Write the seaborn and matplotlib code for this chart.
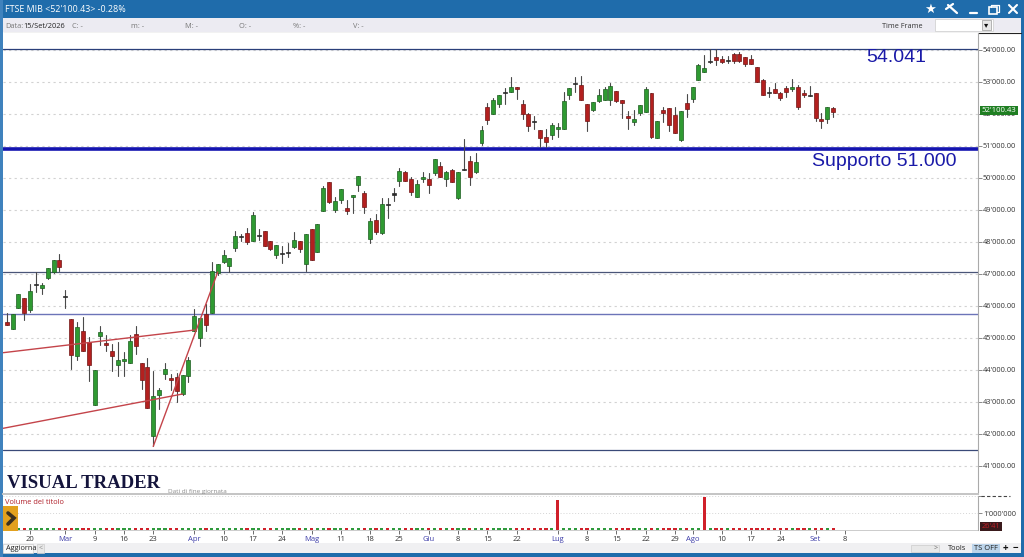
import numpy as np
import pandas as pd
import matplotlib
matplotlib.use("Agg")
import matplotlib.pyplot as plt
from matplotlib.patches import Rectangle
import seaborn as sns

opens = [45488,45290,45947,46249,45884,46645,46572,46874,47062,47437,
         46322,45592,44425,45217,44863,42894,45050,44842,44592,44144,
         44269,44207,45113,44217,44092,41925,43227,43884,43748,43790,
         43258,43821,45228,44988,45759,45780,47030,47374,47239,47802,
         48156,48281,48031,48177,48354,48031,47583,47625,47656,47833,
         48031,47312,48406,47697,48958,49875,49010,49322,49062,49395,
         49781,49520,48083,48697,48291,49197,49479,49906,50187,49979,
         49395,49958,49979,50145,50385,49958,50250,49385,50260,50520,
         50197,51094,52208,51989,52323,52645,52687,52854,52312,52000,
         51770,51510,51270,51354,51520,51541,52583,52927,52895,52302,
         52125,52416,52427,52447,52718,52448,51937,51750,52041,52073,
         52656,51250,52125,52197,51958,51198,52333,52479,53062,53323,
         53635,53791,53718,53656,53885,53875,53770,53718,53468,53062,
         52698,52770,52645,52812,52791,52854,52666,52552,52656,51854,
         51833,52177]
closes = [45394,45760,46363,45780,46468,46697,46655,47176,47426,47207,
          46280,44457,45342,44582,44154,44009,45196,44769,44436,44311,
          44342,44894,44738,43696,42810,43175,43373,44029,43686,43352,
          43831,44300,45697,45634,45394,47083,47322,47593,47510,48177,
          48197,48010,48854,48218,47885,47781,47906,47656,47697,48052,
          47781,48239,47447,48562,49697,49260,49291,49656,48979,49468,
          50052,49093,48666,48312,49177,49156,49531,50218,49895,49572,
          49812,50031,49770,50583,50020,50187,49864,50197,50291,50020,
          50500,51500,51823,52437,52583,52687,52833,52770,51989,51614,
          51739,51239,51135,51666,51593,52406,52802,52958,52437,51791,
          52364,52593,52781,52864,52396,52354,51864,51854,52270,52791,
          51281,51781,52031,51666,51416,52093,52146,52854,53531,53427,
          53666,53687,53635,53687,53656,53666,53562,53562,52989,52593,
          52656,52645,52489,52687,52854,52229,52583,52583,51885,51781,
          52229,52073]
highs = [45780,45760,46363,46249,46687,47062,46718,47176,47426,47635,
         46489,45592,45488,45644,45019,44009,45384,45103,44811,44873,
         44571,45103,45384,44217,44373,43977,43425,44217,43884,43905,
         43831,44394,45905,45634,46072,47374,47322,47760,47510,48333,
         48260,48437,48937,48406,48354,48031,47906,47864,47968,48302,
         48031,48239,48406,48562,49760,49875,49395,49656,49322,49468,
         50052,49604,48750,48885,49375,49375,49687,50312,50229,50031,
         49927,50187,50156,50583,50489,50218,50270,50197,51229,50677,
         50781,51625,52354,52489,52583,52812,53146,52854,52437,52020,
         51937,51510,51520,51708,51708,52677,52802,53146,53198,52302,
         52364,52770,52833,52958,52718,52448,52104,52125,52270,52854,
         52656,51781,52208,52197,52229,52093,52614,52854,53562,53844,
         54020,54021,53812,53812,53916,53937,53770,53854,53468,53093,
         52833,52958,52698,52875,53083,52906,52750,52885,52656,52041,
         52229,52208]
lows = [45394,45290,45947,45551,45800,46436,46384,46843,47030,47103,
        45947,44029,44321,44582,43644,42894,44769,44582,43977,43821,
        43821,44207,44498,43404,42810,41612,42779,43727,43363,42987,
        43206,43613,45228,44759,45207,45780,46978,47343,47062,47708,
        48020,47948,48031,48073,47864,47760,47489,47343,47531,47802,
        47687,47093,47447,47697,48958,49218,48927,49218,48885,48906,
        49583,48906,47968,48260,48239,48739,49281,49760,49895,49458,
        49395,49864,49531,50104,50020,49739,49864,49343,50260,49791,
        50156,51031,51687,51989,52208,52312,52687,52458,51854,51458,
        51520,50958,50958,51218,51291,51541,52458,52698,52437,51458,
        52083,52385,52427,52281,52364,51864,51520,51656,51968,52073,
        51239,51250,51760,51479,51416,51166,51916,52385,53062,53323,
        53604,53531,53583,53583,53604,53625,53500,53562,52989,52593,
        52520,52645,52437,52541,52729,52166,52520,52552,51781,51573,
        51708,51916]

volumes = [115000,120000,110000,120000,115000,110000,120000,115000,110000,120000,
           115000,120000,110000,115000,120000,110000,115000,120000,110000,115000,
           120000,110000,115000,120000,110000,115000,120000,110000,115000,120000,
           110000,115000,120000,110000,115000,120000,110000,115000,120000,110000,
           115000,120000,110000,115000,120000,110000,115000,120000,110000,115000,
           120000,110000,115000,120000,110000,115000,120000,110000,115000,120000,
           110000,115000,120000,110000,115000,120000,110000,115000,120000,110000,
           115000,120000,110000,115000,120000,110000,115000,120000,110000,115000,
           120000,110000,115000,120000,110000,115000,120000,110000,115000,120000,
           110000,115000,120000,110000,1760000,120000,110000,115000,120000,110000,
           115000,120000,110000,115000,120000,110000,115000,120000,110000,115000,
           120000,110000,115000,120000,110000,115000,120000,110000,115000,1940000,
           110000,115000,120000,110000,115000,120000,110000,115000,120000,110000,
           115000,120000,110000,115000,120000,110000,115000,120000,110000,115000,
           120000,110000]

price_ticks = [54000,53000,52000,51000,50000,49000,48000,47000,46000,45000,44000,43000,42000,41000]
price_labels = ["54'000.00","53'000.00","52'000.00","51'000.00","50'000.00","49'000.00","48'000.00",
                "47'000.00","46'000.00","45'000.00","44'000.00","43'000.00","42'000.00","41'000.00"]
date_positions = [4,10,15,20,25,32,37,42,47,52,57,62,67,72,77,82,87,94,99,104,109,114,117,122,127,132,138,143]
date_labels = ["20","Mar","9","16","23","Apr","10","17","24","Mag","11","18","25","Giu","8","15","22",
               "Lug","8","15","22","29","Ago","10","17","24","Set","8"]
month_names = ["Mar","Apr","Mag","Giu","Lug","Ago","Set"]

level_resistance = 54041
level_support = 50920
level_mid = 47070
level_low_mid = 45750
level_floor = 41490
trend_a_x, trend_a_y = [-0.6, 32.1], [44541, 45250]
trend_b_x, trend_b_y = [-0.6, 30.0], [42178, 43250]
trend_c_x, trend_c_y = [25.0, 36.0], [41612, 47060]

W, H = 1024, 557
sns.set_theme(style="white")
plt.rcParams["font.family"] = ["Open Sans", "DejaVu Sans"]
fig = plt.figure(figsize=(W/100, H/100), dpi=100, facecolor="white")

def rect(left, top, right, bottom):
    return [left/W, 1-bottom/H, (right-left)/W, (bottom-top)/H]

BLUE = "#1f6cab"
bg = fig.add_axes([0, 0, 1, 1], zorder=0)
bg.set_xlim(0, W); bg.set_ylim(H, 0); bg.axis("off")
bg.add_patch(Rectangle((0, 0), W, 18, color=BLUE, lw=0))
bg.add_patch(Rectangle((0, 18), W, 14, color="#ecebf2", lw=0))
bg.add_patch(Rectangle((0, 543), W, 10, color="#f0f0f2", lw=0))
bg.add_patch(Rectangle((0, 553), W, 4, color=BLUE, lw=0))
bg.add_patch(Rectangle((0, 0), 3, H, color="#3f82bd", lw=0))
bg.add_patch(Rectangle((1021, 0), 3, H, color=BLUE, lw=0))
bg.plot([3, 1021], [32.5, 32.5], color="#222222", lw=0.8)

# price pane
ax = fig.add_axes(rect(3, 33, 978, 494), zorder=2)
xlim = (-0.63, 165.7)
idx = np.arange(len(opens))
o, c, hi, lo = map(np.array, (opens, closes, highs, lows))
ax.set_facecolor("white")
ax.set_ylim(40125, 54531)
ax.set_yticks(price_ticks)
ax.set_yticklabels(price_labels, fontsize=5.3, color="#333333")
ax.yaxis.tick_right()
ax.tick_params(axis="y", length=3, width=0.6, color="#777777", pad=0.5, right=True)
ax.tick_params(axis="x", bottom=False, labelbottom=False)
ax.yaxis.grid(True, color="#d2d2d2", lw=0.8, ls=(0, (2, 3)))
ax.set_axisbelow(True)
for s in ("left", "top"):
    ax.spines[s].set_visible(False)
ax.spines["right"].set_color("#aaaaaa"); ax.spines["right"].set_linewidth(0.8)
ax.spines["bottom"].set_color("#c4c4c4"); ax.spines["bottom"].set_linewidth(1.4)

for lev, col, lw in [(level_resistance, "#2a3f7a", 0.9), (level_support, "#1414b0", 2.6),
                     (level_mid, "#4a5578", 0.9), (level_low_mid, "#6c74b8", 1.0),
                     (level_floor, "#3a4a78", 0.9)]:
    ax.axhline(lev, color=col, lw=lw, zorder=1.5)

wicks = pd.DataFrame({"candle": np.r_[idx, idx], "price": np.r_[lo, hi]})
wicks["pos"] = wicks["candle"]
sns.lineplot(data=wicks, x="pos", y="price", units="candle", estimator=None,
             color="#4a4a4a", lw=0.8, ax=ax, legend=False, zorder=2)

body = np.abs(c - o)
colors = np.where(body < 60, "#2b2b2b", np.where(c > o, "#2f9a32", "#b3201f"))
edges = np.where(body < 60, "#2b2b2b", np.where(c > o, "#1d5c20", "#701515"))
ax.bar(idx, body, bottom=np.minimum(o, c), width=0.68, color=colors, edgecolor=edges,
       linewidth=0.5, zorder=3)

for tx, ty in [(trend_a_x, trend_a_y), (trend_b_x, trend_b_y), (trend_c_x, trend_c_y)]:
    sns.lineplot(x=tx, y=ty, color="#c4444a", lw=1.0, ax=ax, legend=False, zorder=4)
ax.set_xlim(*xlim)
ax.set_xlabel(""); ax.set_ylabel("")

# volume pane
axv = fig.add_axes(rect(3, 496, 978, 530), zorder=2)
vol_arr = np.array(volumes)
vol = pd.DataFrame({"pos": idx, "volume": vol_arr,
                    "dir": np.where((c >= o) & (vol_arr < 1000000), "up", "down")})
sns.barplot(data=vol, x="pos", y="volume", hue="dir", native_scale=True, dodge=False,
            palette={"up": "#2e9a3c", "down": "#d0202a"}, width=0.55, saturation=1,
            linewidth=0, ax=axv, legend=False, zorder=4)
axv.set_xlim(*xlim)
axv.set_ylim(0, 2000000)
axv.set_xlabel(""); axv.set_ylabel("")
axv.yaxis.tick_right()
axv.set_yticks([1000000, 2000000])
axv.set_yticklabels(["1'000'000", ""], fontsize=5.3, color="#333333")
axv.tick_params(axis="y", length=3, width=0.6, color="#777777", pad=0.5, right=True)
axv.yaxis.grid(True, color="#d5d5d5", lw=0.7, ls=(0, (1, 2)))
axv.set_axisbelow(True)
axv.set_xticks(date_positions)
axv.set_xticklabels(date_labels, fontsize=5.5, color="#333333")
for t in axv.get_xticklabels():
    if t.get_text() in month_names:
        t.set_color("#3c3ca8")
axv.tick_params(axis="x", length=3, width=0.6, color="#555555", pad=1.5, bottom=True)
for s in ("left", "top"):
    axv.spines[s].set_visible(False)
axv.spines["right"].set_color("#aaaaaa"); axv.spines["right"].set_linewidth(0.8)
axv.spines["bottom"].set_color("#c4c4c4"); axv.spines["bottom"].set_linewidth(0.6)
axv.spines["bottom"].set_zorder(1)

# overlay
fg = fig.add_axes([0, 0, 1, 1], zorder=5)
fg.set_xlim(0, W); fg.set_ylim(H, 0); fg.axis("off"); fg.patch.set_alpha(0)
T = lambda x, y, s, **k: fg.text(x, y, s, va=k.pop("va", "center"), **k)
T(5, 10, "FTSE MIB <52'100.43> -0.28%", color="white", fontsize=6.4)
T(5, 26, "Data:", color="#777777", fontsize=5.3)
T(23, 26, "15/Set/2026", color="#222222", fontsize=5.3)
for x, s in [(72, "C: -"), (131, "m: -"), (185, "M: -"), (239, "O: -"), (293, "%: -"), (353, "V: -")]:
    T(x, 26, s, color="#777777", fontsize=5.3)
T(923, 26, "Time Frame", color="#333333", fontsize=5.2, ha="right")
fg.add_patch(Rectangle((935, 19), 58, 12, facecolor="white", edgecolor="#cccccc", lw=0.5))
fg.add_patch(Rectangle((982, 20), 9, 10, facecolor="#e8e8e8", edgecolor="#999999", lw=0.5))
T(986.5, 25, "▾", ha="center", color="#111111", fontsize=6, family="DejaVu Sans")

T(930, 9, "★", ha="center", color="white", fontsize=9.5, family="DejaVu Sans")
fg.plot([948, 957], [5, 13], color="white", lw=1.6)
fg.plot([946, 953], [9, 4], color="white", lw=1.6)
fg.plot([970, 977], [13, 13], color="white", lw=1.6)
fg.add_patch(Rectangle((989, 7), 8, 7, fill=False, edgecolor="white", lw=1.2))
fg.plot([991, 991, 999, 999, 997], [7, 5, 5, 12, 12], color="white", lw=0.9)
fg.plot([1009, 1017], [5, 13], color="white", lw=1.5)
fg.plot([1009, 1017], [13, 5], color="white", lw=1.5)

T(866, 57, "54.041", color="#1a1aa8", fontsize=14, family="Liberation Sans")
T(812, 161, "Supporto 51.000", color="#1a1aa8", fontsize=14, family="Liberation Sans")
T(7, 483.5, "VISUAL TRADER", color="#14143c", fontsize=13.5, family="Liberation Serif", fontweight="bold")
T(168, 491, "Dati di fine giornata", color="#8a8a8a", fontsize=4.6)

fg.add_patch(Rectangle((980, 106), 38, 9, color="#1f7f22", lw=0))
T(999, 110.3, "52'100.43", ha="center", color="white", fontsize=5.6)
fg.add_patch(Rectangle((980, 522), 22, 9, color="#3a1a1c", lw=0))
T(991, 526.5, "26'41", ha="center", color="#c02028", fontsize=5.3)
fg.plot([981, 1010], [496, 496], color="#444444", lw=0.8, ls=(0, (3, 2)))

T(5, 502, "Volume del titolo", color="#b0202a", fontsize=5.4)
fg.add_patch(Rectangle((3, 506), 15, 25, color="#e2a11e", lw=0))
fg.plot([8, 14, 8], [513, 518, 524], color="#3a3020", lw=2.6, solid_joinstyle="miter")

fg.add_patch(Rectangle((3, 544), 30, 8.5, facecolor="#fafafa", edgecolor="#cccccc", lw=0.5))
T(6, 548.3, "Aggiorna", color="#222222", fontsize=5.3)
fg.add_patch(Rectangle((37, 544), 7, 8.5, facecolor="#e8e8e8", edgecolor="#cccccc", lw=0.5))
T(40.5, 548.3, "<", color="#888888", ha="center", fontsize=5)
fg.add_patch(Rectangle((911, 545), 28, 7, facecolor="#e8e8e8", edgecolor="#cccccc", lw=0.5))
T(936, 548.3, ">", color="#666666", ha="center", fontsize=5)
T(957, 548, "Tools", color="#222222", ha="center", fontsize=5.4)
fg.add_patch(Rectangle((972, 544), 28, 8.5, color="#bcd4ea", lw=0))
T(986, 548, "TS OFF", color="#222222", ha="center", fontsize=5.4)
T(1005, 548, "+", color="#111111", ha="center", fontsize=7, fontweight="bold")
T(1015, 548, "−", color="#111111", ha="center", fontsize=7, fontweight="bold")

fig.savefig("out.png", dpi=100)
